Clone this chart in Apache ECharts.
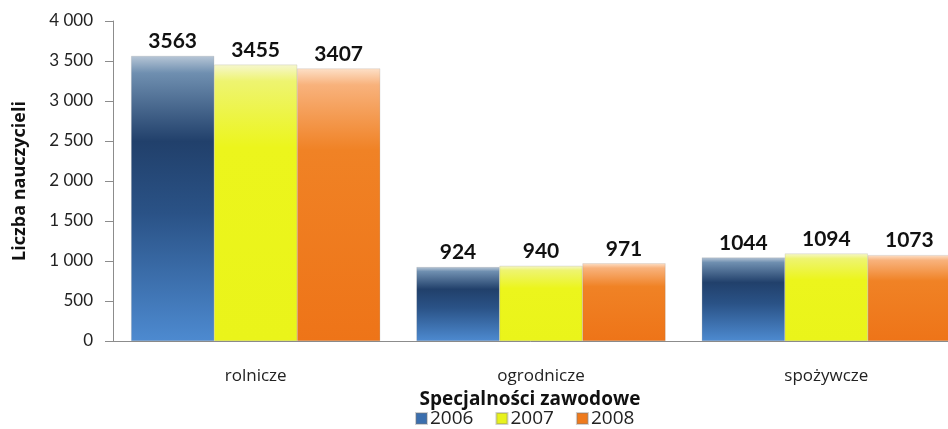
<!DOCTYPE html>
<html><head><meta charset="utf-8">
<script src="https://cdn.jsdelivr.net/npm/echarts@6/dist/echarts.min.js"></script>
<style>html,body{margin:0;padding:0;background:#fff}#c{width:948px;height:429px}</style>
</head><body><div id="c"></div>
<script>
const categories = ['rolnicze', 'ogrodnicze', 'spożywcze'];
const years = ['2006', '2007', '2008'];
const v2006 = [3563, 924, 1044];
const v2007 = [3455, 940, 1094];
const v2008 = [3407, 971, 1073];
const yTicks = {0:'0',500:'500',1000:'1 000',1500:'1 500',2000:'2 000',2500:'2 500',3000:'3 000',3500:'3 500',4000:'4 000'};

const FONT = 'Lato, "Open Sans", sans-serif';
const FONT2 = '"Open Sans", Lato, sans-serif';
function grad(stops){
  return new echarts.graphic.LinearGradient(0,0,0,1,stops.map(s=>({offset:s[0],color:s[1]})));
}
const colors = [
  grad([[0,'#b7c6d6'],[0.06,'#6f8fb0'],[0.3,'#21406b'],[0.55,'#2a5286'],[1,'#4d8ad0']]),
  grad([[0,'#f6f7cf'],[0.06,'#eef470'],[0.3,'#ecf51c'],[1,'#eaf41a']]),
  grad([[0,'#fde0c8'],[0.06,'#f8b27c'],[0.3,'#f08225'],[1,'#ee7418']])
];
const legendColors = ['#3b6fae','#e8f21c','#ef7a1c'];
const data = [v2006, v2007, v2008];

const chart = echarts.init(document.getElementById('c'));
chart.setOption({
  animation:false,
  textStyle:{fontFamily:FONT},
  grid:{left:113, top:21, width:856, height:320, containLabel:false, outerBoundsMode:'none'},
  legend:{
    data: years.map((y,i)=>({name:y, itemStyle:{color:legendColors[i]}})),
    top:404, left:410, itemWidth:11, itemHeight:11, itemGap:22, icon:'rect',
    textStyle:{fontSize:19, color:'#222', fontFamily:FONT2, padding:[0,0,0,-2]}
  },
  xAxis:{
    type:'category', data:categories,
    name:'Specjalności zawodowe', nameLocation:'middle', nameGap:49,
    nameTextStyle:{fontSize:19, fontWeight:'bold', color:'#111', fontFamily:FONT2, padding:[0,22,0,0]},
    axisLine:{lineStyle:{color:'#8c8c8c'}},
    axisTick:{show:false},
    axisLabel:{fontSize:17, color:'#222', margin:27, fontFamily:FONT2}
  },
  yAxis:{
    type:'value', min:0, max:4000, interval:500,
    name:'Liczba nauczycieli', nameLocation:'middle', nameGap:84, nameRotate:90,
    nameTextStyle:{fontSize:18, fontWeight:'bold', color:'#111', fontFamily:FONT2},
    axisLine:{show:true, lineStyle:{color:'#8c8c8c'}},
    axisTick:{show:true, length:8, lineStyle:{color:'#8c8c8c'}},
    splitLine:{show:false},
    axisLabel:{fontSize:17, color:'#222', margin:20, formatter:v=>yTicks[v]}
  },
  series: years.map((y,i)=>({
    name:y, type:'bar', data:data[i], barWidth:83, barGap:'0%',
    itemStyle:{color:colors[i], borderColor:'rgba(120,120,120,0.35)', borderWidth:0.5},
    label:{show:true, position:'top', distance:4, fontSize:21, fontWeight:'bold', color:'#111', fontFamily:FONT}
  }))
});
</script></body></html>
